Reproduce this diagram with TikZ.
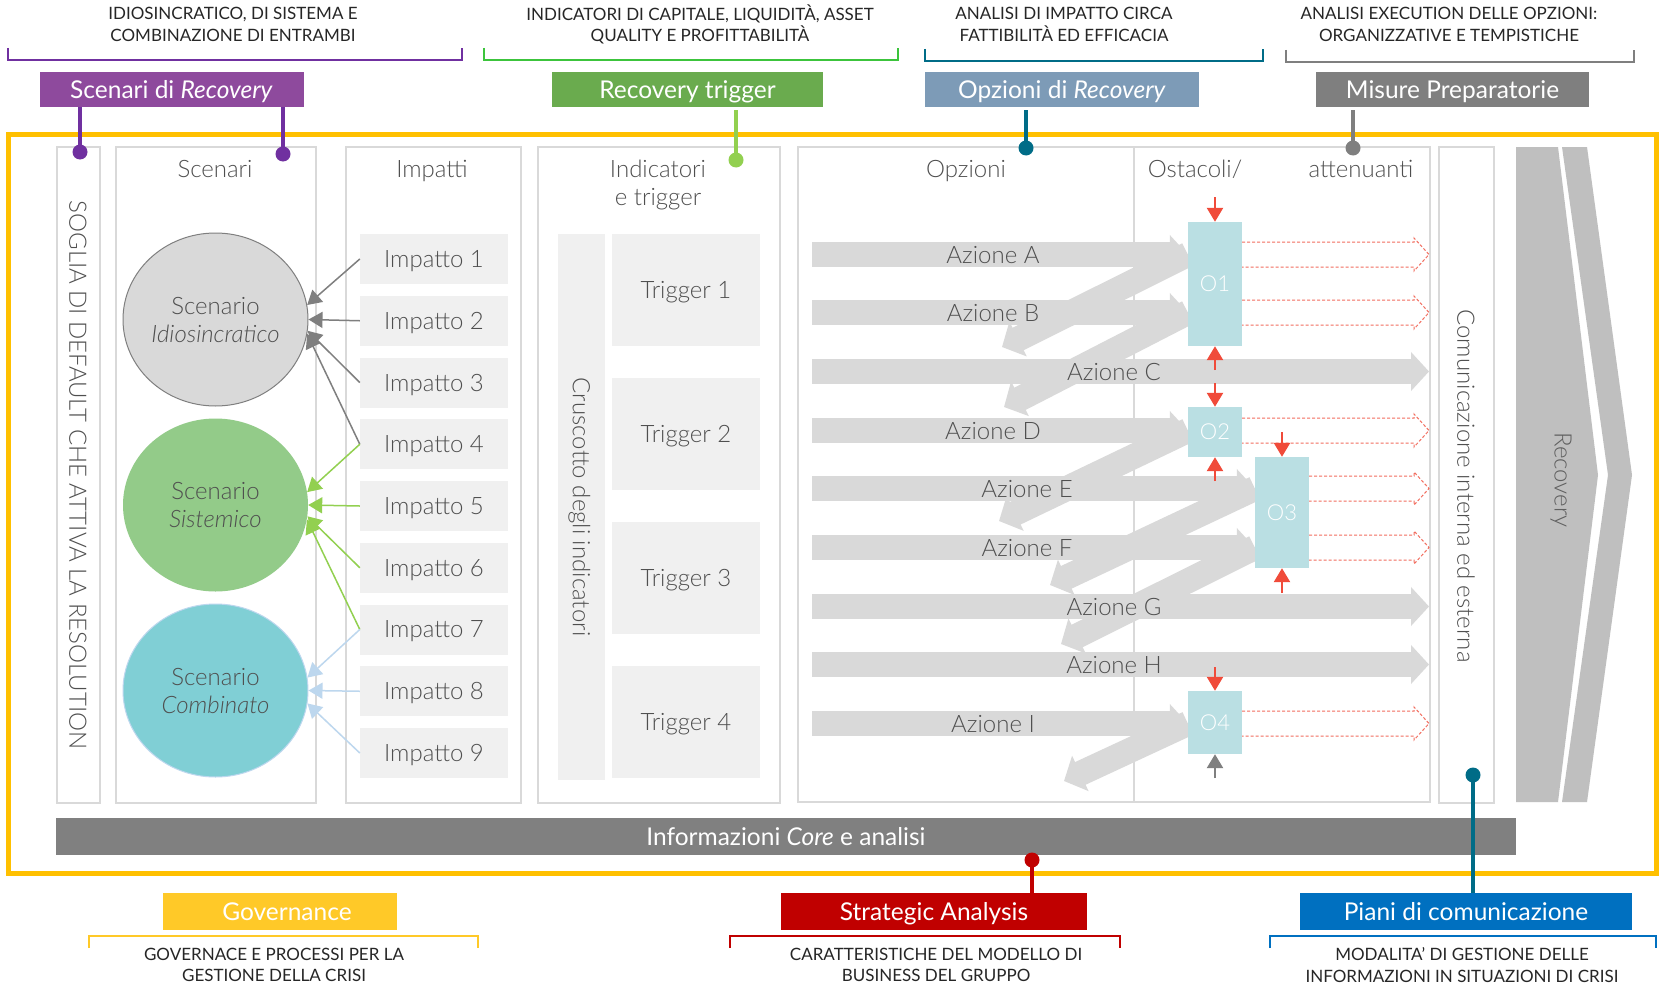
\documentclass[tikz,border=0pt]{standalone}
\usepackage{fontspec}
\setmainfont{Lato Light}[ItalicFont={Lato Light Italic}]
\newfontfamily\capsfont{Lato}
\usetikzlibrary{arrows.meta,shapes.geometric}
\definecolor{txt}{HTML}{4F4F4F}
\definecolor{hdr}{HTML}{262626}
\definecolor{colb}{HTML}{D9D9D9}
\definecolor{lbox}{HTML}{F0F0F0}
\definecolor{arw}{HTML}{D9D9D9}
\definecolor{purp}{HTML}{8E4A9D}
\definecolor{purpd}{HTML}{7030A0}
\definecolor{grn}{HTML}{6AAB4E}
\definecolor{grnb}{HTML}{3CC43C}
\definecolor{grnl}{HTML}{92D050}
\definecolor{steel}{HTML}{7D9BB7}
\definecolor{tealc}{HTML}{006C87}
\definecolor{mgray}{HTML}{7F7F7F}
\definecolor{rtxt}{HTML}{5F5F5F}
\definecolor{orng}{HTML}{FFC000}
\definecolor{gov}{HTML}{FFC928}
\definecolor{strat}{HTML}{C00000}
\definecolor{piani}{HTML}{0070C0}
\definecolor{oboxc}{HTML}{BADFE3}
\definecolor{redar}{HTML}{F04B3A}
\definecolor{reddot}{HTML}{F26D5E}
\definecolor{chev}{HTML}{BFBFBF}
\definecolor{barc}{HTML}{808080}
\definecolor{cgray}{HTML}{D9D9D9}
\definecolor{cgreen}{HTML}{93CB89}
\definecolor{cblue}{HTML}{80CFD5}
\definecolor{lblue}{HTML}{BDD7EE}
\tikzset{
  big/.style={font=\fontsize{24}{28}\selectfont, text=txt, inner sep=0pt, text depth=0pt},
  caps/.style={font=\capsfont\fontsize{17}{21.5}\selectfont, text=hdr, align=center, inner sep=0pt},
  colbox/.style={draw=colb, line width=1.5pt, fill=white},
  lgbox/.style={big, fill=lbox, draw=none},
  boxtxt/.style={font=\capsfont\fontsize{24.5}{29}\selectfont, text=white, inner sep=0pt, text depth=0pt},
  topbox/.style={boxtxt, minimum height=35pt},
  botbox/.style={boxtxt, minimum height=37pt},
  brk/.style={line width=2.5pt},
  stemline/.style={line width=4.5pt},
  dotc/.style={circle, inner sep=0pt, minimum size=15pt},
  hbar/.style={arw, line width=25pt, -{Triangle[length=18pt,width=38pt]}},
  ghost/.style={reddot, line width=1pt, dash pattern=on 3pt off 2pt},
  redarr/.style={redar, line width=2.5pt, -{Triangle[length=14pt,width=16pt]}},
  conn/.style={line width=1.5pt, -{Triangle[length=14pt,width=16pt]}},
  scen/.style={ellipse, big, minimum width=185pt, minimum height=173pt, align=center},
  ostbox/.style={fill=oboxc, minimum width=54pt, font=\fontsize{22}{26}\selectfont, text=white, inner sep=0pt},
}
\newcommand\ghostarr[2]{\draw[ghost] (#1,#2-12.5) -- (1414,#2-12.5) -- (1414,#2-16.5) -- (1429,#2) -- (1414,#2+16.5) -- (1414,#2+12.5) -- (#1,#2+12.5);}
\begin{document}
\begin{tikzpicture}[x=1pt,y=-1pt]
\useasboundingbox (0,0) rectangle (1659,990);
\fill[white] (0,0) rectangle (1659,990);

% ---------- top headers ----------
\node[caps] (t1) at (233,24.5) {IDIOSINCRATICO, DI SISTEMA E\\COMBINAZIONE DI ENTRAMBI};
\node[caps] (t2) at (700,24.5) {INDICATORI DI CAPITALE, LIQUIDITÀ, ASSET\\QUALITY E PROFITTABILITÀ};
\node[caps] (t3) at (1064,24.5) {ANALISI DI IMPATTO CIRCA\\FATTIBILITÀ ED EFFICACIA};
\node[caps] (t4) at (1449,24.5) {ANALISI EXECUTION DELLE OPZIONI:\\ORGANIZZATIVE E TEMPISTICHE};

\draw[brk, purpd] (8,48) -- (8,60) -- (462,60) -- (462,48);
\draw[brk, grnb] (484,48) -- (484,60) -- (898,60) -- (898,48);
\draw[brk, tealc] (925,49) -- (925,61) -- (1263,61) -- (1263,49);
\draw[brk, mgray] (1286,50) -- (1286,62) -- (1634,62) -- (1634,50);

\node[topbox, fill=purp, minimum width=264pt] (b1) at (171.5,89.5) {Scenari di \textit{Recovery}};
\node[topbox, fill=grn, minimum width=271pt] (b2) at (687.5,89.5) {Recovery trigger};
\node[topbox, fill=steel, minimum width=274pt] (b3) at (1062,89.5) {Opzioni di \textit{Recovery}};
\node[topbox, fill=mgray, minimum width=273pt] (b4) at (1452.5,89.5) {Misure Preparatorie};

% ---------- orange frame ----------
\draw[orng, line width=5pt] (8,134) rectangle (1656,873);

% ---------- columns ----------
\draw[colbox] (57,147) rectangle (100,803);
\draw[colbox] (116,147) rectangle (316,803);
\draw[colbox] (346,147) rectangle (521,803);
\draw[colbox] (538,147) rectangle (780,803);
\draw[colbox] (798,147) rectangle (1430,802);
\draw[colb, line width=1.5pt] (1134,147) -- (1134,802);
\draw[colbox] (1439,147) rectangle (1494,803);

% ---------- column headings ----------
\node[big] (hs) at (215,169) {Scenari};
\node[big] (hi) at (432,169) {Impatti};
\node[big, align=center] (ht) at (658,183) {Indicatori\\e trigger};
\node[big] (ho) at (966,169) {Opzioni};
\node[big] (hos) at (1195,169) {Ostacoli/};
\node[big] (hat) at (1361,169) {attenuanti};

\node[big, rotate=-90] (soglia) at (78,475) {SOGLIA DI DEFAULT CHE ATTIVA LA RESOLUTION};
\node[big, rotate=-90] (comun) at (1466,486) {Comunicazione interna ed esterna};

% ---------- recovery chevron ----------
\fill[chev] (1516,147) -- (1558,147) -- (1598,475) -- (1558,802) -- (1516,802) -- cycle;
\fill[chev] (1562,147) -- (1587,147) -- (1632,475) -- (1587,802) -- (1562,802) -- (1608,475) -- cycle;
\node[big, rotate=-90, text=rtxt] (recov) at (1563,480) {Recovery};

% ---------- scenarios ----------
\node[scen, fill=cgray, draw=mgray, line width=1pt] (idio) at (215.5,319.5) {Scenario\\\textit{Idiosincratico}};
\node[scen, fill=cgreen] (sist) at (215.5,505) {Scenario\\\textit{Sistemico}};
\node[scen, fill=cblue, draw=lblue, line width=1pt] (comb) at (215.5,690.5) {Scenario\\\textit{Combinato}};

\foreach \i in {1,...,9}
  \node[lgbox, minimum width=148pt, minimum height=50pt] (imp\i) at (434,{259+61.75*(\i-1)}) {Impatto \i};

\draw[conn, mgray] (imp1.west) -- (idio.9);
\draw[conn, mgray] (imp2.west) -- (idio.0);
\draw[conn, mgray] (imp3.west) -- (idio.-7);
\draw[conn, mgray] (imp4.west) -- (idio.-9);
\draw[conn, grnl] (imp4.west) -- (sist.8);
\draw[conn, grnl] (imp5.west) -- (sist.0);
\draw[conn, grnl] (imp6.west) -- (sist.-7);
\draw[conn, grnl] (imp7.west) -- (sist.-9);
\draw[conn, lblue] (imp7.west) -- (comb.8);
\draw[conn, lblue] (imp8.west) -- (comb.0);
\draw[conn, lblue] (imp9.west) -- (comb.-8);

% ---------- indicators ----------
\node[lgbox, rotate=-90, minimum width=546pt, minimum height=47pt] (crus) at (581.5,507) {Cruscotto degli indicatori};
\foreach \i in {1,...,4}
  \node[lgbox, minimum width=148pt, minimum height=112pt] (trg\i) at (686,{290+144*(\i-1)}) {Trigger \i};

% ---------- options ----------
\coordinate (rA) at (812,254.5);
\coordinate (rB) at (812,312.5);
\coordinate (rC) at (812,371.5);
\coordinate (rD) at (812,430.5);
\coordinate (rE) at (812,488.5);
\coordinate (rF) at (812,547.5);
\coordinate (rG) at (812,606.5);
\coordinate (rH) at (812,664.5);
\coordinate (rI) at (812,723.5);
\coordinate (optR) at (1429,0);

\node[ostbox, minimum height=124pt] (o1) at (1215,284) {};
\node[ostbox, minimum height=50pt] (o2) at (1215,432) {};
\node[ostbox, minimum height=111pt] (o3) at (1282,512.5) {};
\node[ostbox, minimum height=63pt] (o4) at (1215,722.5) {};

% diagonal return arrows
\coordinate (dA) at (1002,347);
\coordinate (dB) at (1004,407);
\coordinate (dD) at (999,521);
\coordinate (dE) at (1050,585);
\coordinate (dF) at (1061,644);
\coordinate (dI) at (1064,781);
\draw[hbar] (o1.west |- rA) -- (dA);
\draw[hbar] (o1.west |- rB) -- (dB);
\draw[hbar] (o2.west |- rD) -- (dD);
\draw[hbar] (o3.west |- rE) -- (dE);
\draw[hbar] (o3.west |- rF) -- (dF);
\draw[hbar] (o4.west |- rI) -- (dI);

% horizontal arrows
\draw[hbar] (rA) -- (o1.west |- rA);
\draw[hbar] (rB) -- (o1.west |- rB);
\draw[hbar] (rC) -- (optR |- rC);
\draw[hbar] (rD) -- (o2.west |- rD);
\draw[hbar] (rE) -- (o3.west |- rE);
\draw[hbar] (rF) -- (o3.west |- rF);
\draw[hbar] (rG) -- (optR |- rG);
\draw[hbar] (rH) -- (optR |- rH);
\draw[hbar] (rI) -- (o4.west |- rI);

\node[big] (aA) at (993,254.5) {Azione A};
\node[big] (aB) at (993,312.5) {Azione B};
\node[big] (aC) at (1114,371.5) {Azione C};
\node[big] (aD) at (993,430.5) {Azione D};
\node[big] (aE) at (1027,488.5) {Azione E};
\node[big] (aF) at (1027,547.5) {Azione F};
\node[big] (aG) at (1114,606.5) {Azione G};
\node[big] (aH) at (1114,664.5) {Azione H};
\node[big] (aI) at (993,723.5) {Azione I};

% obstacle boxes on top
\node[ostbox, minimum height=124pt] at (o1) {O1};
\node[ostbox, minimum height=50pt] at (o2) {O2};
\node[ostbox, minimum height=111pt] at (o3) {O3};
\node[ostbox, minimum height=63pt] at (o4) {O4};

% dashed continuations
\ghostarr{1242}{254.5}
\ghostarr{1242}{312.5}
\ghostarr{1242}{430.5}
\ghostarr{1309}{488.5}
\ghostarr{1309}{547.5}
\ghostarr{1242}{723.5}

% obstacle arrows
\coordinate (r1) at (1215,197);
\coordinate (r2) at (1215,370);
\coordinate (r3) at (1215,383);
\coordinate (r4) at (1215,481);
\coordinate (r5) at (1282,432);
\coordinate (r6) at (1282,593);
\coordinate (r7) at (1215,667);
\coordinate (r8) at (1215,778);
\draw[redarr] (r1) -- (o1.north);
\draw[redarr] (r2) -- (o1.south);
\draw[redarr] (r3) -- (o2.north);
\draw[redarr] (r4) -- (o2.south);
\draw[redarr] (r5) -- (o3.north);
\draw[redarr] (r6) -- (o3.south);
\draw[redarr] (r7) -- (o4.north);
\draw[redarr, mgray] (r8) -- (o4.south);

% ---------- core bar ----------
\node[boxtxt, fill=barc, minimum width=1460pt, minimum height=37pt] (info) at (786,836.5) {Informazioni \textit{Core} e analisi};

% ---------- bottom boxes ----------
\node[botbox, fill=gov, minimum width=234pt] (gv) at (280,911.5) {\hspace*{14pt}Governance};
\node[botbox, fill=strat, minimum width=306pt] (sa) at (934,911.5) {Strategic Analysis};
\node[botbox, fill=piani, minimum width=332pt] (pc) at (1466,911.5) {Piani di comunicazione};

\draw[brk, gov] (89,948) -- (89,936) -- (478,936) -- (478,948);
\draw[brk, strat] (730,948) -- (730,936) -- (1120,936) -- (1120,948);
\draw[brk, piani] (1270,948) -- (1270,936) -- (1656,936) -- (1656,948);

\node[caps] (g1) at (274,965) {GOVERNACE E PROCESSI PER LA\\GESTIONE DELLA CRISI};
\node[caps] (g2) at (936,965) {CARATTERISTICHE DEL MODELLO DI\\BUSINESS DEL GRUPPO};
\node[caps] (g3) at (1462,965) {MODALITA’ DI GESTIONE DELLE\\INFORMAZIONI IN SITUAZIONI DI CRISI};

% ---------- stems and dots ----------
\node[dotc, fill=purpd] (d1) at (80,152) {};
\node[dotc, fill=purpd] (d2) at (283,154) {};
\node[dotc, fill=grnl] (d3) at (736,160) {};
\node[dotc, fill=tealc] (d4) at (1026,148) {};
\node[dotc, fill=mgray] (d5) at (1353,148) {};
\node[dotc, fill=strat] (d6) at (1032,860) {};
\node[dotc, fill=tealc] (d7) at (1473,775) {};
\draw[stemline, purpd] (b1.south -| d1) -- (d1.center);
\draw[stemline, purpd] (b1.south -| d2) -- (d2.center);
\draw[stemline, grnl] (b2.south -| d3) ++(0,3) -- (d3.center);
\draw[stemline, tealc] (b3.south -| d4) ++(0,3) -- (d4.center);
\draw[stemline, mgray] (b4.south -| d5) ++(0,3) -- (d5.center);
\draw[stemline, strat] (d6.center) -- (sa.north -| d6);
\draw[stemline, tealc] (d7.center) -- (pc.north -| d7);
\end{tikzpicture}
\end{document}
